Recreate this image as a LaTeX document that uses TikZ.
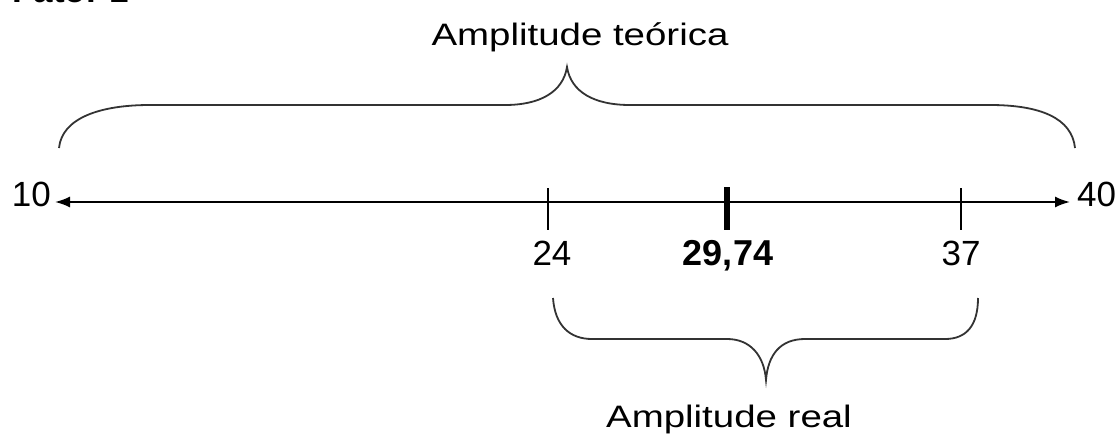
\documentclass[tikz,border=0pt]{standalone}
\usepackage{fontspec}
\setmainfont{Liberation Sans}
\usetikzlibrary{arrows.meta}
\begin{document}
\begin{tikzpicture}[x=1pt,y=-1pt,
  lbl/.style={inner sep=0pt,anchor=base,font=\fontsize{35}{40}\selectfont},
  word/.style={inner sep=0pt,anchor=base,font=\fontsize{31}{36}\selectfont},
  brace/.style={line width=1.8pt,draw=black!80},
  tick/.style={line width=1.4pt},
  axis/.style={line width=1.8pt,{Latex[length=15pt,width=11pt]}-{Latex[length=15pt,width=11pt]}}]
\useasboundingbox (0,0) rectangle (1120,436);
\clip (0,0) rectangle (1120,436);
% partially visible title
\node[inner sep=0pt,anchor=base west,font=\bfseries\fontsize{35}{40}\selectfont] (title) at (12,3) {Fator 1};
% axis
\coordinate (L) at (55,202);
\coordinate (R) at (1070,202);
\draw[axis] (L) -- (R);
\node[lbl,anchor=base east] (n10) at (51,206) {10};
\node[lbl,anchor=base west] (n40) at (1077,206) {40};
% ticks
\coordinate (t24a) at (548,188); \coordinate (t24b) at (548,230);
\coordinate (t37a) at (961,188); \coordinate (t37b) at (961,230);
\coordinate (tma) at (727,187); \coordinate (tmb) at (727,230);
\draw[tick] (t24a) -- (t24b);
\draw[tick] (t37a) -- (t37b);
\draw[line width=6pt] (tma) -- (tmb);
\node[lbl] (n24) at (552,265) {24};
\node[lbl] (n37) at (961,265) {37};
\node[lbl,font=\bfseries\fontsize{36}{40}\selectfont] (nm) at (728,265) {29,74};
% top brace
\draw[brace] (59,148) .. controls (62,118) and (100,105) .. (150,105) -- (505,105)
  .. controls (540,105) and (563,92) .. (567,67)
  .. controls (571,92) and (594,105) .. (630,105) -- (990,105)
  .. controls (1040,105) and (1072,118) .. (1075,148);
\node[word] (theo) at (580,46) {\scalebox{1.24}[1]{Amplitude teórica}};
% bottom brace
\draw[brace] (553,298) .. controls (555,326) and (570,339) .. (592,339) -- (727,339)
  .. controls (750,339) and (764,355) .. (766,380)
  .. controls (768,355) and (780,339) .. (805,339) -- (945,339)
  .. controls (966,339) and (978,326) .. (978,298);
\node[word] (real) at (729,427) {\scalebox{1.24}[1]{Amplitude real}};
\end{tikzpicture}
\end{document}
